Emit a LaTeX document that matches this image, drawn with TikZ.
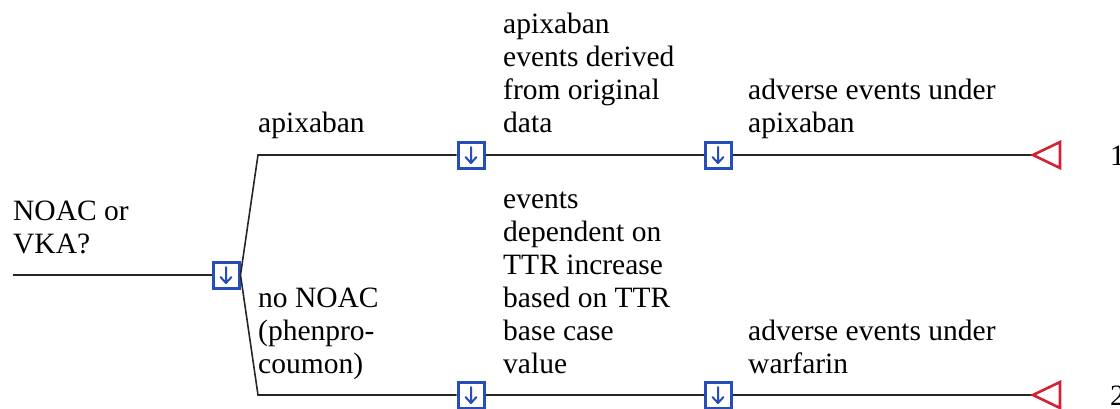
\documentclass[tikz,border=0pt]{standalone}
\usepackage{fontspec}
\setmainfont{Liberation Serif}
\definecolor{cblue}{RGB}{38,78,184}
\definecolor{tred}{RGB}{212,32,52}
\begin{document}
\begin{tikzpicture}[x=1pt,y=-1pt,
  edge/.style={draw=black!85,line width=1.6pt},
  chance/.style={draw=cblue,line width=3pt,fill=white,minimum size=26pt,inner sep=0pt,
    path picture={\draw[cblue,line width=2pt,line cap=round,line join=round]
      ([yshift=8pt]path picture bounding box.center) -- ([yshift=-8pt]path picture bounding box.center)
      ([xshift=-5.5pt,yshift=-2pt]path picture bounding box.center) -- ([yshift=-8pt]path picture bounding box.center) -- ([xshift=5.5pt,yshift=-2pt]path picture bounding box.center);}},
  term/.style={draw=tred,line width=2.6pt,line join=miter},
  lbl/.style={inner sep=0pt,anchor=base west,align=left,font=\fontsize{29.5}{33}\selectfont}
]
\useasboundingbox (0,0) rectangle (1120,408);
% coordinates
\coordinate (root) at (13,275);
\coordinate (f1) at (258,155);
\coordinate (f2) at (258,395);
\coordinate (t1) at (1033,155);
\coordinate (t2) at (1033,395);
% chance nodes
\node[chance] (c0) at (226,275) {};
\node[chance] (a1) at (471,155) {};
\node[chance] (a2) at (718,155) {};
\node[chance] (b1) at (471,395) {};
\node[chance] (b2) at (718,395) {};
% connectors
\draw[edge] (root) -- (c0.west);
\draw[edge] (c0.east) -- (f1) -- (a1.west);
\draw[edge] (c0.east) -- (f2) -- (b1.west);
\draw[edge] (a1.east) -- (a2.west);
\draw[edge] (b1.east) -- (b2.west);
\draw[edge] (a2.east) -- (t1);
\draw[edge] (b2.east) -- (t2);
% terminals
\draw[term] (t1) -- ++(27,-13) -- ++(0,26) -- cycle;
\draw[term] (t2) -- ++(27,-13) -- ++(0,26) -- cycle;
% labels (base = baseline of last line)
\node[lbl] (q) at (13,253) {NOAC or\\VKA?};
\node[lbl] (la) at (258,132) {apixaban};
\node[lbl] (lb) at (258,373) {no NOAC\\(phenpro-\\coumon)};
\node[lbl] (la1) at (503,132) {apixaban\\events derived\\from original\\data};
\node[lbl] (lb1) at (503,373) {events\\dependent on\\TTR increase\\based on TTR\\base case\\value};
\node[lbl] (la2) at (748,132) {adverse events under\\apixaban};
\node[lbl] (lb2) at (748,373) {adverse events under\\warfarin};
\node[lbl] (n1) at (1110,165) {1};
\node[lbl] (n2) at (1110,405) {2};
\end{tikzpicture}
\end{document}
